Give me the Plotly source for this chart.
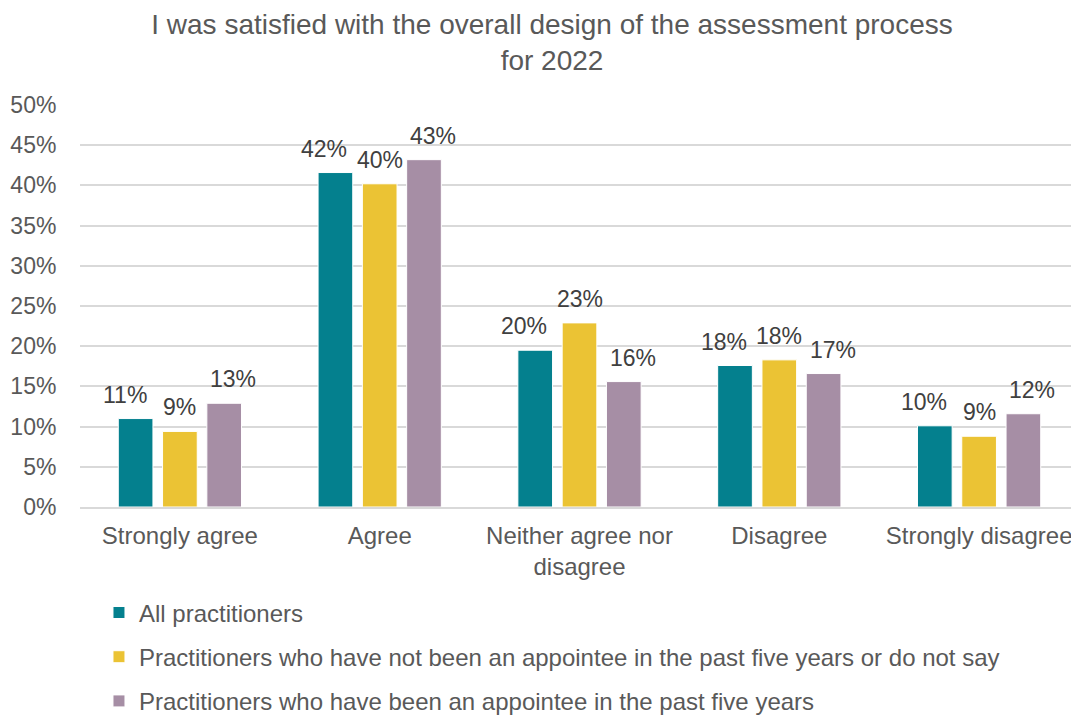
import plotly.graph_objects as go

categories = ["Strongly agree", "Agree", "Neither agree nor<br>disagree", "Disagree", "Strongly disagree"]
series_names = [
    "All practitioners",
    "Practitioners who have not been an appointee in the past five years or do not say",
    "Practitioners who have been an appointee in the past five years",
]
all_practitioners = [0.110, 0.416, 0.195, 0.176, 0.101]
not_appointee = [0.094, 0.402, 0.229, 0.183, 0.088]
appointee = [0.129, 0.432, 0.156, 0.166, 0.116]

colors = {
    'teal': '#04808E',
    'yellow': '#EBC334',
    'purple': '#A68EA5',
    'grid': '#D9D9D9',
    'axis_text': '#595959',
    'label_text': '#404040',
}
font_family = "Liberation Sans, Arial, sans-serif"

# the page body keeps its default 8px margin, so the figure is 8px smaller
W, H = 1071, 708
bar_pitch = 44.3
# labels are spread a little outwards, like the original's data labels
label_shift = [-bar_pitch - 11, 0, bar_pitch + 9]

fig = go.Figure()
series = [all_practitioners, not_appointee, appointee]
series_colors = [colors['teal'], colors['yellow'], colors['purple']]
for i, (name, values, color) in enumerate(zip(series_names, series, series_colors)):
    fig.add_trace(go.Bar(
        x=categories,
        y=values,
        name=name,
        legendgroup=f"g{i}",
        marker=dict(color=color, line=dict(color='white', width=1)),
        hoverinfo='skip',
    ))
    # value labels above each bar
    for cat, v in zip(categories, values):
        fig.add_annotation(
            x=cat,
            y=v,
            text=f"{v * 100:.0f}%",
            showarrow=False,
            xanchor='center',
            yanchor='bottom',
            xshift=label_shift[i],
            yshift=9,
            font=dict(family=font_family, size=23, color=colors['label_text']),
        )

fig.update_layout(
    width=W,
    height=H,
    paper_bgcolor='white',
    plot_bgcolor='white',
    margin=dict(t=97, l=72, r=0, b=209, autoexpand=False),
    font=dict(family=font_family, color=colors['axis_text']),
    title=dict(
        text="I was satisfied with the overall design of the assessment process<br>for 2022",
        x=544 / W,
        xanchor='center',
        y=1 - 26 / H,
        yanchor='middle',
        font=dict(family=font_family, size=28, color=colors['axis_text']),
    ),
    barmode='group',
    bargap=0.335,
    bargroupgap=0.217,
    showlegend=True,
    legend=dict(
        orientation='v',
        x=0.019,
        xanchor='left',
        y=-0.2075,
        yanchor='top',
        font=dict(family=font_family, size=24, color=colors['axis_text']),
        tracegroupgap=10,
        itemwidth=30,
        bgcolor='rgba(0,0,0,0)',
    ),
)

fig.update_xaxes(
    showgrid=False,
    showline=True,
    linecolor=colors['grid'],
    linewidth=2,
    ticks='outside',
    ticklen=6,
    tickcolor='rgba(0,0,0,0)',
    tickfont=dict(family=font_family, size=24, color=colors['axis_text']),
)

fig.update_yaxes(
    range=[0, 0.5],
    dtick=0.05,
    tickformat='.0%',
    showgrid=True,
    gridcolor=colors['grid'],
    gridwidth=2,
    zeroline=False,
    ticks='outside',
    ticklen=18,
    tickcolor='rgba(0,0,0,0)',
    tickfont=dict(family=font_family, size=23, color=colors['axis_text']),
)

fig.write_html("out.html")
